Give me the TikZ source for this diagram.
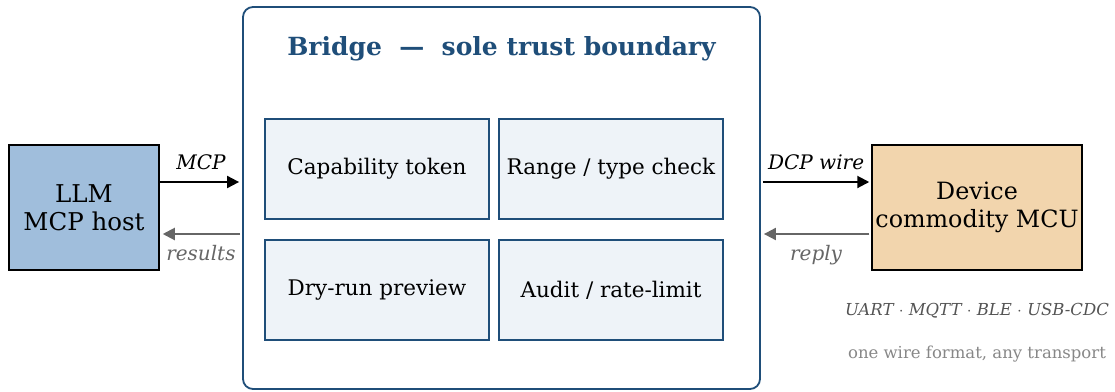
\documentclass[tikz,border=0pt]{standalone}
\usepackage{fontspec}
\setmainfont{DejaVu Serif}
\usepackage{tikz}
\usepackage{xcolor}
\usetikzlibrary{arrows.meta, positioning}
\definecolor{BridgeBlue}{HTML}{1F4E79}
\definecolor{HostBlue}{HTML}{A0BEDC}
\definecolor{DeviceSand}{HTML}{F2D5AD}
\definecolor{CheckFill}{HTML}{EEF3F8}
\definecolor{ReplyGray}{HTML}{666666}

\begin{document}
\begin{tikzpicture}[x=1pt, y=-1pt,
    endpoint/.style={rectangle, draw=black, line width=1.5pt, align=center, font=\fontsize{24.5}{28.5}\selectfont},
    check/.style={rectangle, draw=BridgeBlue, fill=CheckFill, line width=1.7pt, minimum width=224pt, minimum height=100pt, font=\fontsize{21.5}{26}\selectfont},
    fwd/.style={-{Triangle[length=12pt, width=12pt]}, line width=2pt, black},
    back/.style={-{Triangle[length=12pt, width=12pt]}, line width=2pt, ReplyGray},
    wirelabel/.style={font=\fontsize{20}{24}\selectfont\itshape}]

    \useasboundingbox (0,0) rectangle (1115,391);

    \node[draw=BridgeBlue, line width=1.8pt, rounded corners=10pt, minimum width=517pt, minimum height=382pt] (bridge) at (501.5,198) {};
    \node[text=BridgeBlue, font=\fontsize{25}{30}\selectfont\bfseries] (title) at (501.5,48.5) {Bridge~~---~~sole trust boundary};

    \node[check] (cap) at (377,169) {Capability token};
    \node[check, right=8.3pt of cap] (range) {Range / type check};
    \node[check, below=19.3pt of cap] (dry) {Dry-run preview};
    \node[check, right=8.3pt of dry] (audit) {Audit / rate-limit};

    \node[endpoint, fill=HostBlue, minimum width=150pt, minimum height=125pt] (llm) at (84,207.5) {LLM\\MCP host};
    \node[endpoint, fill=DeviceSand, minimum width=210pt, minimum height=125pt, inner sep=1pt, font=\fontsize{23.8}{28.5}\selectfont] (device) at (977,207.5) {Device\\commodity MCU};

    \draw[fwd, shorten >=3pt] ([yshift=25.5pt]llm.east) -- node[wirelabel, above=7.5pt] {MCP} ([yshift=25.5pt]llm.east -| bridge.west);
    \draw[back, shorten <=2pt, shorten >=3pt] ([yshift=-26.5pt]llm.east -| bridge.west) -- node[wirelabel, below=7pt, text=ReplyGray] {results} ([yshift=-26.5pt]llm.east);
    \draw[fwd, shorten <=2pt, shorten >=2pt] ([yshift=25.5pt]device.west -| bridge.east) -- node[wirelabel, above=7.5pt] {DCP wire} ([yshift=25.5pt]device.west);
    \draw[back, shorten >=3pt, shorten <=2pt] ([yshift=-26.5pt]device.west) -- node[wirelabel, below=7pt, text=ReplyGray] {reply} ([yshift=-26.5pt]device.west -| bridge.east);

    \node[font=\fontsize{16.5}{20}\selectfont\itshape, text=black!67] (transports) at (977,311) {UART $\cdot$ MQTT $\cdot$ BLE $\cdot$ USB-CDC};
    \node[font=\fontsize{16.5}{20}\selectfont, text=black!47] (wireformat) at (977,354) {one wire format, any transport};

\end{tikzpicture}
\end{document}
